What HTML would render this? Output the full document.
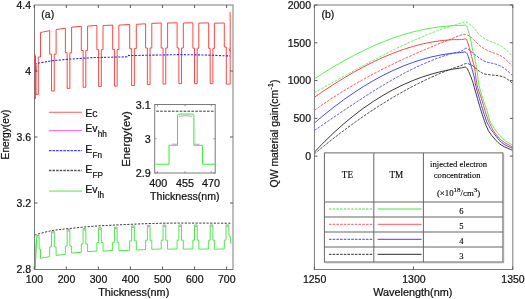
<!DOCTYPE html>
<html><head><meta charset="utf-8"><style>
html,body{margin:0;padding:0;background:#fff;}
svg{display:block;filter:blur(0.35px);}
text{font-family:"Liberation Sans",sans-serif;fill:#111;stroke:#111;stroke-width:0.22px;}
.tk{font-size:10.5px;}
.ser{font-family:"Liberation Serif",serif;stroke:#000;stroke-width:0.12px;fill:#000;}
</style></head><body>
<svg width="525" height="299" viewBox="0 0 525 299">
<rect width="525" height="299" fill="#fff"/>
<defs>
<clipPath id="ca"><rect x="34.5" y="5.0" width="198.5" height="264.5"/></clipPath>
<clipPath id="cb"><rect x="314.4" y="5" width="198.39999999999998" height="264.5"/></clipPath>
</defs>
<!-- Plot a curves -->
<g clip-path="url(#ca)" fill="none" stroke-linejoin="miter">
<path d="M35.3 56 L35.3 99 M36.0 64 L36.0 94.3 L38.3 94.3 L38.3 57 L40.50 57 L40.50 32.50 L49.70 30.60 L49.70 54.20 L51.55 54.20 L51.55 91.00 L54.25 91.00 L54.25 54.20 L56.10 54.20 L56.10 29.60 L65.40 28.20 L65.40 52.70 L67.15 52.70 L67.15 88.40 L69.85 88.40 L69.85 52.70 L71.60 52.70 L71.60 27.20 L81.30 26.30 L81.30 50.50 L83.10 50.50 L83.10 87.30 L85.80 87.30 L85.80 50.50 L87.60 50.50 L87.60 26.10 L96.90 25.40 L96.90 49.70 L98.60 49.70 L98.60 86.40 L101.30 86.40 L101.30 49.70 L103.00 49.70 L103.00 25.60 L112.70 25.10 L112.70 49.50 L114.45 49.50 L114.45 86.10 L117.15 86.10 L117.15 49.50 L118.90 49.50 L118.90 25.10 L129.70 24.50 L129.70 48.60 L131.65 48.60 L131.65 85.50 L134.35 85.50 L134.35 48.60 L136.30 48.60 L136.30 24.30 L145.60 23.80 L145.60 48.00 L147.35 48.00 L147.35 84.60 L150.05 84.60 L150.05 48.00 L151.80 48.00 L151.80 23.40 L161.20 23.00 L161.20 48.00 L163.05 48.00 L163.05 84.10 L165.75 84.10 L165.75 48.00 L167.60 48.00 L167.60 23.00 L177.10 22.80 L177.10 48.00 L178.85 48.00 L178.85 83.60 L181.55 83.60 L181.55 48.00 L183.30 48.00 L183.30 23.00 L192.90 22.80 L192.90 48.20 L194.50 48.20 L194.50 83.60 L197.20 83.60 L197.20 48.20 L198.80 48.20 L198.80 23.10 L208.70 22.90 L208.70 48.40 L210.20 48.40 L210.20 83.60 L212.90 83.60 L212.90 48.40 L214.40 48.40 L214.40 23.20 L224.30 23.00 L224.30 47.00 L226.30 47.00 L226.30 84.10 L230.20 84.10 L230.20 12.2" stroke="#ff3030" stroke-width="0.9"/>
<path d="M229.0 48.3 L230.2 51.5" stroke="#ff3030" stroke-width="0.9"/>
<path d="M34.5 54 L35.8 72" stroke="#c03030" stroke-width="1.6"/>
<path d="M34.50 63.80 L53.00 60.60 L72.00 59.00 L91.00 57.70 L114.00 57.10 L127.30 56.80 L128.50 55.30 L130.00 55.60 L180.00 54.60 L205.00 55.00 L230.00 56.00" stroke="#2a2aff" stroke-width="1.1" stroke-dasharray="2.2 1.3"/>
<path d="M34.50 235.00 C37.42 234.27 46.08 231.68 52.00 230.60 C57.92 229.52 63.17 229.22 70.00 228.50 C76.83 227.78 84.67 226.92 93.00 226.30 C101.33 225.68 108.00 225.32 120.00 224.80 C132.00 224.28 146.50 223.47 165.00 223.20 C183.50 222.93 220.00 223.20 231.00 223.20" stroke="#222" stroke-width="0.9" stroke-dasharray="2.2 1.4"/>
<path d="M35.2 268.5 L36.4 240 L36.4 235.5 L39.1 235.5 L39.1 249.2 L40.50 249.2 L40.50 258.30 L49.70 256.60 L49.70 247.00 L51.55 247.00 L51.55 231.30 L54.25 231.30 L54.25 247.00 L56.10 247.00 L56.10 255.40 L65.40 254.30 L65.40 246.00 L67.15 246.00 L67.15 229.50 L69.85 229.50 L69.85 246.00 L71.60 246.00 L71.60 253.00 L81.30 252.30 L81.30 244.00 L83.10 244.00 L83.10 228.50 L85.80 228.50 L85.80 244.00 L87.60 244.00 L87.60 251.60 L96.90 251.10 L96.90 242.50 L98.60 242.50 L98.60 227.70 L101.30 227.70 L101.30 242.50 L103.00 242.50 L103.00 251.00 L112.70 250.60 L112.70 242.20 L114.45 242.20 L114.45 227.10 L117.15 227.10 L117.15 242.20 L118.90 242.20 L118.90 250.70 L129.70 250.30 L129.70 240.80 L131.65 240.80 L131.65 225.90 L134.35 225.90 L134.35 240.80 L136.30 240.80 L136.30 250.00 L145.60 249.60 L145.60 240.30 L147.35 240.30 L147.35 225.40 L150.05 225.40 L150.05 240.30 L151.80 240.30 L151.80 249.30 L161.20 249.00 L161.20 240.20 L163.05 240.20 L163.05 225.00 L165.75 225.00 L165.75 240.20 L167.60 240.20 L167.60 249.20 L177.10 248.90 L177.10 240.20 L178.85 240.20 L178.85 224.90 L181.55 224.90 L181.55 240.20 L183.30 240.20 L183.30 249.20 L192.90 248.90 L192.90 240.20 L194.50 240.20 L194.50 224.90 L197.20 224.90 L197.20 240.20 L198.80 240.20 L198.80 249.20 L208.70 248.90 L208.70 240.20 L210.20 240.20 L210.20 224.90 L212.90 224.90 L212.90 240.20 L214.40 240.20 L214.40 249.20 L224.30 248.90 L224.30 240.20 L226.00 240.20 L226.00 224.90 L228.70 224.90 L229.10 236.00 L230.4 236.5 L230.9 244" stroke="#4ee84e" stroke-width="1.0"/>
<path d="M37.1 237.0 L38.5 237.0 M52.00 232.80 L53.80 232.80 M67.60 231.00 L69.40 231.00 M83.55 230.00 L85.35 230.00 M99.05 229.20 L100.85 229.20 M114.90 228.60 L116.70 228.60 M132.10 227.40 L133.90 227.40 M147.80 226.90 L149.60 226.90 M163.50 226.50 L165.30 226.50 M179.30 226.40 L181.10 226.40 M194.95 226.40 L196.75 226.40 M210.65 226.40 L212.45 226.40 M226.45 226.40 L228.25 226.40 " stroke="#ff40ff" stroke-width="0.9"/>
</g>
<!-- Plot a axes -->
<rect x="34.5" y="5.0" width="198.5" height="264.5" fill="none" stroke="#7a7a7a" stroke-width="1"/>
<path d="M35.0 269 L35.6 258 L36.4 240" stroke="#30e030" stroke-width="0.9" fill="none"/>
<path d="M35.2 56 L35.2 99 M34.8 55 L35.6 73" stroke="#ff4040" stroke-width="0.8" fill="none"/>
<path d="M34.20 269.5 v-3.0 M34.20 5.0 v3.0 M66.27 269.5 v-3.0 M66.27 5.0 v3.0 M98.34 269.5 v-3.0 M98.34 5.0 v3.0 M130.41 269.5 v-3.0 M130.41 5.0 v3.0 M162.48 269.5 v-3.0 M162.48 5.0 v3.0 M194.55 269.5 v-3.0 M194.55 5.0 v3.0 M226.62 269.5 v-3.0 M226.62 5.0 v3.0 M34.5 71.00 h3.0 M233.0 71.00 h-3.0 M34.5 137.00 h3.0 M233.0 137.00 h-3.0 M34.5 203.00 h3.0 M233.0 203.00 h-3.0 " stroke="#5a5a5a" stroke-width="1" fill="none"/>
<text class="tk" x="31" y="8.8" text-anchor="end">4.4</text>
<text class="tk" x="31" y="74.8" text-anchor="end">4</text>
<text class="tk" x="31" y="140.8" text-anchor="end">3.6</text>
<text class="tk" x="31" y="206.8" text-anchor="end">3.2</text>
<text class="tk" x="31" y="273.3" text-anchor="end">2.8</text>
<text class="tk" x="34.4" y="282.8" text-anchor="middle">100</text>
<text class="tk" x="66.5" y="282.8" text-anchor="middle">200</text>
<text class="tk" x="98.5" y="282.8" text-anchor="middle">300</text>
<text class="tk" x="130.6" y="282.8" text-anchor="middle">400</text>
<text class="tk" x="162.7" y="282.8" text-anchor="middle">500</text>
<text class="tk" x="194.8" y="282.8" text-anchor="middle">600</text>
<text class="tk" x="226.8" y="282.8" text-anchor="middle">700</text>
<text x="133.7" y="296.0" text-anchor="middle" style="font-size:10.85px">Thickness(nm)</text>
<text x="0" y="0" transform="translate(8.5,134.5) rotate(-90)" text-anchor="middle" style="font-size:10.2px">Energy(ev)</text>
<text x="41.3" y="17.8" style="font-size:10.5px">(a)</text>
<path d="M48.9 112.3 H82" stroke="#ff5858" stroke-width="1.1" fill="none"/>
<text x="85.3" y="116.6" style="font-size:10.6px">Ec</text>
<path d="M48.9 130.6 H82" stroke="#ff60ff" stroke-width="1.0" fill="none"/>
<text x="85.3" y="131.7" style="font-size:10.6px">Ev<tspan dy="5.1" style="font-size:8.2px">hh</tspan></text>
<path d="M48.9 150.6 H82" stroke="#4040ff" stroke-width="1.3" stroke-dasharray="2.6 1.0" fill="none"/>
<text x="85.3" y="152.5" style="font-size:10.6px">E<tspan dy="5.1" style="font-size:8.2px">Fn</tspan></text>
<path d="M48.9 170.5 H82" stroke="#555" stroke-width="1.3" stroke-dasharray="2.5 1.1" fill="none"/>
<text x="85.3" y="172.7" style="font-size:10.6px">E<tspan dy="5.0" style="font-size:8.2px">FP</tspan></text>
<path d="M48.9 191.1 H82" stroke="#98f698" stroke-width="1.7" fill="none"/>
<text x="85.3" y="192.6" style="font-size:10.6px">Ev<tspan dy="5.1" style="font-size:8.2px">lh</tspan></text>
<rect x="154.7" y="104.5" width="60.5" height="68.5" fill="#fff" stroke="#7a7a7a" stroke-width="1"/>
<path d="M157.5 173.0 v-1.8 M157.5 104.5 v1.8 M185.0 173.0 v-1.8 M185.0 104.5 v1.8 M211.3 173.0 v-1.8 M211.3 104.5 v1.8 M154.7 104.51 h1.8 M215.2 104.51 h-1.8 M154.7 138.70 h1.8 M215.2 138.70 h-1.8 M154.7 173.00 h1.8 M215.2 173.00 h-1.8 " stroke="#7a7a7a" stroke-width="0.8" fill="none"/>
<path d="M156.3 111.2 H214" stroke="#222" stroke-width="0.9" stroke-dasharray="2.6 1.3" fill="none"/>
<path d="M172 144.2 L177 144.2 M178.8 116.2 Q185.6 115.2 192.6 116.2 M194.5 144.2 L199.5 144.2" stroke="#ff50ff" stroke-width="0.8" fill="none"/>
<path d="M155.5 164.2 L169.0 164.2 L169.0 145.3 L177.5 145.3 L177.5 115.5 Q177.8 114.1 180 114.0 L191.5 114.0 Q193.8 114.1 193.9 115.5 L193.9 145.3 L202.6 145.3 L202.6 164.2 L214.8 164.2" stroke="#30ee30" stroke-width="1.0" fill="none"/>
<text class="tk" x="150.7" y="109.2" text-anchor="end" style="font-size:10.8px">3.1</text>
<text class="tk" x="150.7" y="142.8" text-anchor="end" style="font-size:10.8px">3</text>
<text class="tk" x="150.7" y="176.6" text-anchor="end" style="font-size:10.8px">2.9</text>
<text x="158.3" y="186.9" text-anchor="middle" style="font-size:10.8px">400</text>
<text x="184.9" y="186.9" text-anchor="middle" style="font-size:10.8px">455</text>
<text x="211.0" y="186.9" text-anchor="middle" style="font-size:10.8px">470</text>
<text x="184.8" y="200.0" text-anchor="middle" style="font-size:10.6px">Thickness(nm)</text>
<text x="0" y="0" transform="translate(129.6,139.0) rotate(-90)" text-anchor="middle" style="font-size:11.4px">Energy(ev)</text>
<g clip-path="url(#cb)" fill="none">
<path d="M314.40 78.85 C316.03 77.80 320.94 74.59 324.21 72.54 C327.48 70.48 330.74 68.48 334.01 66.53 C337.28 64.59 340.55 62.69 343.82 60.86 C347.09 59.03 350.36 57.26 353.63 55.54 C356.90 53.83 360.16 52.18 363.43 50.60 C366.70 49.01 369.97 47.49 373.24 46.04 C376.51 44.58 379.78 43.20 383.05 41.88 C386.32 40.57 389.58 39.32 392.85 38.16 C396.12 36.99 399.39 35.89 402.66 34.87 C405.93 33.85 409.20 32.91 412.47 32.05 C415.74 31.19 419.00 30.41 422.27 29.71 C425.54 29.01 428.81 28.39 432.08 27.87 C435.35 27.34 438.62 26.89 441.89 26.54 C445.16 26.19 448.42 25.92 451.69 25.75 C454.96 25.58 459.12 25.57 461.50 25.52 C463.88 25.46 464.92 24.65 466.00 25.40 C467.08 26.15 467.33 28.07 468.00 30.00 C468.67 31.93 469.45 34.83 470.00 37.00 C470.55 39.17 470.87 40.83 471.30 43.00 C471.73 45.17 472.07 47.67 472.60 50.00 C473.13 52.33 473.78 53.65 474.50 57.00 C475.22 60.35 476.17 65.43 476.90 70.10 C477.63 74.77 477.92 80.28 478.90 85.00 C479.88 89.72 481.38 93.93 482.80 98.40 C484.22 102.87 486.28 108.20 487.40 111.80 C488.52 115.40 488.65 117.72 489.50 120.00 C490.35 122.28 491.35 123.60 492.50 125.50 C493.65 127.40 494.42 128.98 496.40 131.40 C498.38 133.82 501.67 137.68 504.40 140.00 C507.13 142.32 511.40 144.42 512.80 145.30" stroke="#40f040" stroke-width="0.9"/>
<path d="M314.40 92.51 L315.34 91.99 L316.16 91.54 L317.03 91.06 L317.90 90.58 L318.78 90.10 L319.65 89.61 L320.53 89.13 L321.41 88.65 L322.28 88.17 L323.16 87.68 L324.03 87.20 L324.91 86.71 L325.78 86.23 L326.66 85.75 L327.53 85.26 L328.41 84.78 L329.28 84.29 L330.15 83.81 L331.03 83.32 L331.90 82.84 L332.78 82.35 L333.65 81.87 L334.53 81.38 L335.40 80.90 L336.28 80.41 L337.15 79.93 L338.03 79.44 L338.90 78.96 L339.78 78.47 L340.65 77.99 L341.52 77.50 L342.40 77.02 L343.28 76.54 L344.15 76.05 L345.03 75.57 L345.90 75.09 L346.78 74.60 L347.65 74.12 L348.53 73.64 L349.41 73.16 L350.28 72.67 L351.16 72.19 L352.03 71.71 L352.91 71.23 L353.79 70.75 L354.67 70.27 L355.54 69.79 L356.42 69.31 L357.30 68.83 L358.18 68.36 L359.06 67.88 L359.94 67.40 L360.82 66.93 L361.69 66.45 L362.57 65.97 L363.46 65.50 L364.34 65.03 L365.22 64.55 L366.10 64.08 L366.98 63.61 L367.86 63.14 L368.74 62.67 L369.63 62.20 L370.51 61.73 L371.39 61.26 L372.28 60.79 L373.16 60.33 L374.05 59.86 L374.93 59.39 L375.82 58.93 L376.70 58.47 L377.59 58.01 L378.48 57.54 L379.37 57.08 L380.25 56.62 L381.14 56.16 L382.03 55.71 L382.92 55.25 L383.81 54.80 L384.70 54.34 L385.59 53.89 L386.49 53.44 L387.38 52.99 L388.27 52.54 L389.17 52.09 L390.06 51.64 L390.95 51.19 L391.85 50.75 L392.75 50.31 L393.64 49.86 L394.54 49.42 L395.44 48.98 L396.34 48.54 L397.24 48.11 L398.14 47.67 L399.04 47.24 L399.94 46.80 L400.84 46.37 L401.75 45.94 L402.65 45.52 L403.55 45.09 L404.46 44.67 L405.37 44.24 L406.27 43.82 L407.18 43.40 L408.09 42.98 L409.00 42.57 L409.91 42.15 L410.82 41.74 L411.73 41.33 L412.64 40.92 L413.56 40.51 L414.47 40.10 L415.38 39.70 L416.30 39.30 L417.22 38.90 L418.13 38.50 L419.05 38.11 L419.97 37.71 L420.89 37.32 L421.81 36.93 L422.73 36.54 L423.66 36.16 L424.58 35.78 L425.51 35.40 L426.43 35.02 L427.36 34.64 L428.29 34.27 L429.21 33.90 L430.14 33.53 L431.07 33.16 L432.01 32.80 L432.94 32.43 L433.87 32.08 L434.81 31.72 L435.74 31.37 L436.68 31.01 L437.61 30.67 L438.55 30.32 L439.49 29.98 L440.43 29.64 L441.37 29.30 L442.32 28.96 L443.26 28.63 L444.20 28.30 L445.15 27.98 L446.10 27.66 L447.04 27.34 L447.99 27.02 L448.94 26.71 L449.89 26.40 L450.84 26.09 L451.80 25.79 L452.75 25.49 L453.71 25.19 L454.66 24.90 L455.62 24.61 L456.58 24.33 L457.54 24.05 L458.50 23.77 L459.46 23.49 L460.42 23.21 L461.38 22.92 L462.33 22.61 L463.27 22.28 L464.21 21.98 L465.17 21.81 L466.13 21.89 L467.03 22.22 L467.87 22.74 L468.65 23.35 L469.42 24.00 L470.19 24.63 L470.96 25.26 L471.74 25.90 L472.49 26.55 L473.22 27.23 L473.91 27.95 L474.56 28.71 L475.17 29.50 L475.76 30.31 L476.34 31.13 L476.93 31.93 L477.54 32.72 L478.20 33.48 L478.89 34.20 L479.61 34.89 L480.37 35.54 L481.15 36.16 L481.95 36.75 L482.77 37.33 L483.60 37.88 L484.45 38.42 L485.30 38.94 L486.17 39.44 L487.05 39.91 L487.94 40.35 L488.86 40.76 L489.78 41.13 L490.72 41.48 L491.66 41.82 L492.60 42.15 L493.54 42.49 L494.48 42.86 L495.40 43.24 L496.31 43.65 L497.22 44.07 L498.12 44.51 L499.02 44.95 L499.91 45.40 L500.78 45.88 L501.65 46.38 L502.49 46.91 L503.32 47.47 L504.12 48.07 L504.90 48.69 L505.66 49.35 L506.40 50.02 L507.12 50.71 L507.84 51.41 L508.54 52.12 L509.25 52.83 L509.94 53.55 L510.64 54.27 L511.32 54.98 L511.97 55.65 L512.45 56.15" stroke="#40f040" stroke-width="0.9" stroke-dasharray="2.6 1.3"/>
<path d="M314.40 97.25 C316.03 96.13 320.94 92.73 324.21 90.55 C327.48 88.36 330.74 86.22 334.01 84.14 C337.28 82.05 340.55 80.02 343.82 78.04 C347.09 76.07 350.36 74.15 353.63 72.30 C356.90 70.44 360.16 68.64 363.43 66.92 C366.70 65.19 369.97 63.53 373.24 61.94 C376.51 60.35 379.78 58.83 383.05 57.39 C386.32 55.95 389.58 54.58 392.85 53.29 C396.12 52.01 399.39 50.79 402.66 49.67 C405.93 48.55 409.20 47.51 412.47 46.56 C415.74 45.61 419.00 44.75 422.27 43.98 C425.54 43.22 428.81 42.54 432.08 41.97 C435.35 41.39 438.62 40.91 441.89 40.54 C445.16 40.17 448.42 39.89 451.69 39.73 C454.96 39.56 459.12 39.69 461.50 39.56 C463.88 39.42 465.03 38.58 466.00 38.90 C466.97 39.22 466.88 40.48 467.30 41.50 C467.72 42.52 468.00 43.42 468.50 45.00 C469.00 46.58 469.55 48.17 470.30 51.00 C471.05 53.83 472.28 59.17 473.00 62.00 C473.72 64.83 473.92 64.17 474.60 68.00 C475.28 71.83 475.97 79.93 477.10 85.00 C478.23 90.07 480.02 93.93 481.40 98.40 C482.78 102.87 484.25 108.12 485.40 111.80 C486.55 115.48 487.33 118.05 488.30 120.50 C489.27 122.95 490.27 124.68 491.20 126.50 C492.13 128.32 492.13 129.03 493.90 131.40 C495.67 133.77 498.65 138.10 501.80 140.70 C504.95 143.30 510.97 145.95 512.80 147.00" stroke="#ff3030" stroke-width="0.9"/>
<path d="M314.40 110.37 L315.28 109.75 L316.04 109.21 L316.85 108.64 L317.67 108.06 L318.49 107.48 L319.30 106.91 L320.12 106.34 L320.94 105.76 L321.76 105.19 L322.58 104.62 L323.41 104.05 L324.23 103.49 L325.06 102.92 L325.89 102.36 L326.72 101.80 L327.55 101.25 L328.38 100.69 L329.21 100.14 L330.04 99.59 L330.88 99.03 L331.72 98.49 L332.55 97.94 L333.39 97.39 L334.23 96.85 L335.07 96.31 L335.91 95.77 L336.75 95.23 L337.60 94.69 L338.44 94.16 L339.29 93.62 L340.14 93.09 L340.98 92.56 L341.83 92.03 L342.68 91.51 L343.53 90.98 L344.39 90.46 L345.24 89.94 L346.09 89.42 L346.95 88.90 L347.80 88.38 L348.66 87.87 L349.52 87.35 L350.38 86.84 L351.24 86.33 L352.10 85.82 L352.96 85.32 L353.83 84.81 L354.69 84.31 L355.56 83.81 L356.42 83.31 L357.29 82.81 L358.16 82.31 L359.03 81.82 L359.90 81.33 L360.77 80.83 L361.64 80.34 L362.51 79.86 L363.38 79.37 L364.26 78.88 L365.13 78.40 L366.01 77.92 L366.89 77.44 L367.77 76.96 L368.64 76.48 L369.52 76.01 L370.41 75.53 L371.29 75.06 L372.17 74.59 L373.05 74.12 L373.94 73.66 L374.82 73.19 L375.71 72.72 L376.59 72.26 L377.48 71.80 L378.37 71.34 L379.26 70.88 L380.15 70.43 L381.04 69.97 L381.93 69.52 L382.82 69.07 L383.71 68.62 L384.61 68.17 L385.50 67.72 L386.40 67.27 L387.29 66.83 L388.19 66.39 L389.09 65.94 L389.98 65.50 L390.88 65.07 L391.78 64.63 L392.68 64.19 L393.58 63.76 L394.48 63.32 L395.39 62.89 L396.29 62.46 L397.19 62.03 L398.10 61.61 L399.00 61.18 L399.91 60.76 L400.81 60.33 L401.72 59.91 L402.63 59.49 L403.53 59.07 L404.44 58.65 L405.35 58.24 L406.26 57.82 L407.17 57.41 L408.08 56.99 L408.99 56.58 L409.91 56.17 L410.82 55.76 L411.73 55.35 L412.64 54.95 L413.56 54.54 L414.47 54.14 L415.39 53.73 L416.30 53.33 L417.22 52.93 L418.14 52.53 L419.05 52.13 L419.97 51.74 L420.89 51.34 L421.81 50.95 L422.73 50.55 L423.65 50.16 L424.57 49.77 L425.49 49.38 L426.41 48.99 L427.33 48.60 L428.25 48.21 L429.17 47.82 L430.10 47.44 L431.02 47.05 L431.94 46.67 L432.87 46.29 L433.79 45.90 L434.72 45.52 L435.64 45.14 L436.57 44.76 L437.49 44.39 L438.42 44.01 L439.34 43.63 L440.27 43.26 L441.20 42.88 L442.13 42.51 L443.05 42.14 L443.98 41.76 L444.91 41.39 L445.84 41.02 L446.77 40.65 L447.70 40.28 L448.63 39.91 L449.56 39.55 L450.49 39.18 L451.42 38.81 L452.35 38.44 L453.27 38.07 L454.20 37.69 L455.13 37.31 L456.05 36.93 L456.98 36.56 L457.91 36.19 L458.84 35.83 L459.78 35.48 L460.72 35.15 L461.68 34.86 L462.65 34.62 L463.63 34.45 L464.62 34.40 L465.60 34.48 L466.57 34.69 L467.50 35.03 L468.39 35.48 L469.24 36.00 L470.06 36.57 L470.85 37.17 L471.62 37.81 L472.37 38.48 L473.10 39.16 L473.83 39.84 L474.54 40.54 L475.24 41.25 L475.94 41.97 L476.64 42.68 L477.36 43.38 L478.08 44.07 L478.83 44.74 L479.57 45.40 L480.34 46.05 L481.12 46.67 L481.92 47.26 L482.75 47.82 L483.60 48.34 L484.47 48.84 L485.35 49.31 L486.24 49.77 L487.14 50.21 L488.04 50.65 L488.94 51.07 L489.85 51.49 L490.77 51.89 L491.69 52.27 L492.63 52.62 L493.58 52.94 L494.53 53.25 L495.48 53.56 L496.42 53.89 L497.35 54.24 L498.27 54.64 L499.18 55.05 L500.09 55.48 L500.97 55.94 L501.84 56.44 L502.67 56.99 L503.49 57.57 L504.27 58.19 L505.03 58.83 L505.78 59.50 L506.51 60.19 L507.22 60.88 L507.94 61.58 L508.65 62.29 L509.35 63.00 L510.05 63.71 L510.75 64.42 L511.43 65.12 L512.02 65.72" stroke="#ff3030" stroke-width="0.9" stroke-dasharray="2.6 1.3"/>
<path d="M314.40 123.01 C316.03 121.63 320.94 117.44 324.21 114.77 C327.48 112.09 330.74 109.50 334.01 106.98 C337.28 104.47 340.55 102.03 343.82 99.67 C347.09 97.31 350.36 95.04 353.63 92.84 C356.90 90.65 360.16 88.53 363.43 86.50 C366.70 84.47 369.97 82.52 373.24 80.66 C376.51 78.80 379.78 77.03 383.05 75.34 C386.32 73.65 389.58 72.05 392.85 70.54 C396.12 69.03 399.39 67.60 402.66 66.27 C405.93 64.94 409.20 63.69 412.47 62.55 C415.74 61.40 419.00 60.34 422.27 59.38 C425.54 58.42 428.81 57.55 432.08 56.78 C435.35 56.01 438.62 55.33 441.89 54.75 C445.16 54.18 448.42 53.69 451.69 53.31 C454.96 52.94 459.10 52.63 461.50 52.48 C463.90 52.32 464.88 51.48 466.10 52.40 C467.32 53.32 467.90 55.50 468.80 58.00 C469.70 60.50 470.60 64.27 471.50 67.40 C472.40 70.53 473.52 73.87 474.20 76.80 C474.88 79.73 474.73 81.40 475.60 85.00 C476.47 88.60 478.10 93.93 479.40 98.40 C480.70 102.87 482.22 108.03 483.40 111.80 C484.58 115.57 485.48 118.47 486.50 121.00 C487.52 123.53 488.58 125.35 489.50 127.00 C490.42 128.65 489.95 128.28 492.00 130.90 C494.05 133.52 498.33 139.77 501.80 142.70 C505.27 145.63 510.97 147.53 512.80 148.50" stroke="#3030ff" stroke-width="0.9"/>
<path d="M314.40 130.37 L315.29 129.77 L316.06 129.25 L316.88 128.69 L317.71 128.13 L318.54 127.57 L319.37 127.01 L320.20 126.45 L321.02 125.89 L321.85 125.33 L322.68 124.77 L323.51 124.21 L324.34 123.64 L325.16 123.08 L325.99 122.52 L326.82 121.96 L327.65 121.40 L328.47 120.84 L329.30 120.27 L330.13 119.71 L330.96 119.15 L331.78 118.59 L332.61 118.03 L333.44 117.47 L334.27 116.91 L335.09 116.35 L335.92 115.79 L336.75 115.22 L337.58 114.66 L338.41 114.10 L339.24 113.54 L340.06 112.98 L340.89 112.43 L341.72 111.87 L342.55 111.31 L343.38 110.75 L344.21 110.19 L345.04 109.64 L345.87 109.08 L346.70 108.52 L347.54 107.97 L348.37 107.41 L349.20 106.86 L350.03 106.30 L350.86 105.75 L351.70 105.19 L352.53 104.64 L353.36 104.09 L354.20 103.54 L355.03 102.99 L355.87 102.44 L356.70 101.89 L357.54 101.34 L358.38 100.79 L359.21 100.25 L360.05 99.70 L360.89 99.15 L361.73 98.61 L362.57 98.07 L363.41 97.52 L364.25 96.98 L365.09 96.44 L365.93 95.90 L366.77 95.36 L367.62 94.82 L368.46 94.29 L369.30 93.75 L370.15 93.22 L370.99 92.68 L371.84 92.15 L372.69 91.62 L373.54 91.09 L374.39 90.56 L375.23 90.03 L376.09 89.51 L376.94 88.98 L377.79 88.46 L378.64 87.93 L379.49 87.41 L380.35 86.89 L381.20 86.38 L382.06 85.86 L382.92 85.34 L383.78 84.83 L384.63 84.32 L385.49 83.81 L386.36 83.30 L387.22 82.79 L388.08 82.29 L388.94 81.78 L389.81 81.28 L390.67 80.78 L391.54 80.28 L392.41 79.79 L393.28 79.29 L394.15 78.80 L395.02 78.31 L395.89 77.82 L396.77 77.33 L397.64 76.85 L398.52 76.37 L399.39 75.89 L400.27 75.41 L401.15 74.93 L402.03 74.46 L402.91 73.99 L403.80 73.52 L404.68 73.05 L405.57 72.59 L406.46 72.13 L407.34 71.67 L408.23 71.21 L409.12 70.75 L410.02 70.30 L410.91 69.85 L411.80 69.41 L412.70 68.97 L413.60 68.53 L414.50 68.09 L415.40 67.65 L416.30 67.22 L417.20 66.79 L418.11 66.37 L419.02 65.94 L419.92 65.52 L420.83 65.11 L421.74 64.70 L422.66 64.29 L423.57 63.88 L424.49 63.48 L425.40 63.08 L426.32 62.68 L427.24 62.29 L428.16 61.90 L429.08 61.52 L430.01 61.14 L430.94 60.76 L431.86 60.39 L432.79 60.02 L433.72 59.65 L434.66 59.29 L435.59 58.94 L436.53 58.58 L437.46 58.23 L438.40 57.89 L439.34 57.55 L440.28 57.21 L441.23 56.88 L442.17 56.56 L443.12 56.24 L444.07 55.92 L445.02 55.61 L445.97 55.30 L446.93 55.00 L447.88 54.70 L448.84 54.41 L449.79 54.13 L450.75 53.85 L451.72 53.57 L452.68 53.32 L453.65 53.08 L454.63 52.85 L455.60 52.63 L456.58 52.41 L457.55 52.19 L458.53 51.96 L459.49 51.71 L460.45 51.43 L461.39 51.08 L462.28 50.65 L463.11 50.10 L463.88 49.48 L464.66 48.86 L465.48 48.39 L466.38 48.24 L467.28 48.45 L468.11 48.95 L468.87 49.58 L469.61 50.26 L470.35 50.93 L471.11 51.57 L471.89 52.20 L472.67 52.83 L473.45 53.45 L474.23 54.08 L475.01 54.71 L475.79 55.33 L476.58 55.94 L477.38 56.54 L478.19 57.13 L479.00 57.71 L479.82 58.29 L480.64 58.86 L481.46 59.42 L482.30 59.97 L483.15 60.49 L484.03 60.98 L484.92 61.42 L485.84 61.80 L486.79 62.11 L487.76 62.35 L488.74 62.55 L489.72 62.74 L490.70 62.94 L491.67 63.16 L492.65 63.38 L493.62 63.61 L494.59 63.85 L495.55 64.12 L496.50 64.44 L497.44 64.78 L498.37 65.15 L499.29 65.53 L500.21 65.94 L501.11 66.37 L501.99 66.84 L502.85 67.34 L503.70 67.88 L504.51 68.45 L505.31 69.06 L506.08 69.69 L506.84 70.34 L507.59 71.00 L508.34 71.67 L509.08 72.34 L509.81 73.02 L510.54 73.70 L511.27 74.38 L511.95 75.02 L512.45 75.48" stroke="#3030ff" stroke-width="0.9" stroke-dasharray="2.6 1.3"/>
<path d="M314.40 152.15 C316.03 150.45 320.94 145.24 324.21 141.97 C327.48 138.70 330.74 135.54 334.01 132.51 C337.28 129.47 340.55 126.55 343.82 123.74 C347.09 120.93 350.36 118.23 353.63 115.65 C356.90 113.06 360.16 110.59 363.43 108.23 C366.70 105.87 369.97 103.61 373.24 101.47 C376.51 99.32 379.78 97.28 383.05 95.34 C386.32 93.41 389.58 91.58 392.85 89.85 C396.12 88.12 399.39 86.50 402.66 84.98 C405.93 83.45 409.20 82.03 412.47 80.70 C415.74 79.37 419.00 78.15 422.27 77.01 C425.54 75.88 428.81 74.85 432.08 73.90 C435.35 72.96 438.62 72.11 441.89 71.36 C445.16 70.60 448.42 69.93 451.69 69.36 C454.96 68.78 459.10 68.22 461.50 67.89 C463.90 67.57 464.77 66.48 466.10 67.40 C467.43 68.32 468.38 70.95 469.50 73.40 C470.62 75.85 472.12 80.17 472.80 82.10 C473.48 84.03 472.83 82.28 473.60 85.00 C474.37 87.72 476.10 93.93 477.40 98.40 C478.70 102.87 480.25 108.12 481.40 111.80 C482.55 115.48 483.13 117.35 484.30 120.50 C485.47 123.65 486.60 127.55 488.40 130.70 C490.20 133.85 492.87 136.95 495.10 139.40 C497.33 141.85 498.85 143.55 501.80 145.40 C504.75 147.25 510.97 149.65 512.80 150.50" stroke="#222" stroke-width="0.9"/>
<path d="M314.40 153.84 L315.23 153.16 L315.95 152.57 L316.71 151.93 L317.49 151.30 L318.26 150.66 L319.03 150.03 L319.80 149.39 L320.57 148.76 L321.35 148.12 L322.12 147.49 L322.90 146.86 L323.67 146.23 L324.45 145.60 L325.23 144.97 L326.01 144.34 L326.79 143.72 L327.57 143.09 L328.35 142.47 L329.14 141.85 L329.92 141.23 L330.70 140.61 L331.49 139.99 L332.28 139.37 L333.06 138.75 L333.85 138.14 L334.64 137.52 L335.43 136.91 L336.22 136.30 L337.01 135.69 L337.80 135.08 L338.60 134.47 L339.39 133.86 L340.19 133.25 L340.98 132.65 L341.78 132.05 L342.58 131.44 L343.38 130.84 L344.18 130.24 L344.98 129.64 L345.78 129.04 L346.58 128.45 L347.38 127.85 L348.19 127.26 L348.99 126.66 L349.80 126.07 L350.61 125.48 L351.41 124.89 L352.22 124.30 L353.03 123.72 L353.84 123.13 L354.65 122.55 L355.47 121.96 L356.28 121.38 L357.10 120.80 L357.91 120.22 L358.73 119.65 L359.55 119.07 L360.36 118.50 L361.18 117.92 L362.00 117.35 L362.83 116.78 L363.65 116.21 L364.47 115.65 L365.30 115.08 L366.12 114.52 L366.95 113.95 L367.78 113.39 L368.60 112.83 L369.43 112.27 L370.26 111.72 L371.10 111.16 L371.93 110.61 L372.76 110.06 L373.60 109.51 L374.43 108.96 L375.27 108.41 L376.11 107.86 L376.95 107.32 L377.79 106.78 L378.63 106.24 L379.47 105.70 L380.31 105.16 L381.16 104.62 L382.00 104.09 L382.85 103.56 L383.70 103.03 L384.55 102.50 L385.40 101.97 L386.25 101.44 L387.10 100.92 L387.95 100.40 L388.81 99.88 L389.66 99.36 L390.52 98.84 L391.37 98.33 L392.23 97.82 L393.09 97.31 L393.95 96.80 L394.82 96.29 L395.68 95.79 L396.54 95.28 L397.41 94.78 L398.28 94.28 L399.14 93.78 L400.01 93.29 L400.88 92.80 L401.75 92.31 L402.62 91.82 L403.50 91.33 L404.37 90.84 L405.25 90.36 L406.13 89.88 L407.00 89.40 L407.88 88.92 L408.76 88.45 L409.64 87.98 L410.53 87.51 L411.41 87.04 L412.30 86.57 L413.18 86.11 L414.07 85.65 L414.96 85.19 L415.85 84.73 L416.74 84.28 L417.63 83.83 L418.52 83.38 L419.42 82.93 L420.31 82.49 L421.21 82.04 L422.11 81.60 L423.01 81.17 L423.91 80.73 L424.81 80.30 L425.71 79.87 L426.62 79.44 L427.52 79.02 L428.43 78.59 L429.33 78.17 L430.24 77.76 L431.15 77.34 L432.06 76.93 L432.98 76.52 L433.89 76.11 L434.81 75.71 L435.72 75.31 L436.64 74.91 L437.56 74.51 L438.48 74.12 L439.40 73.73 L440.32 73.34 L441.24 72.96 L442.17 72.58 L443.09 72.20 L444.02 71.82 L444.95 71.45 L445.87 71.08 L446.80 70.71 L447.74 70.35 L448.67 69.98 L449.60 69.63 L450.54 69.27 L451.47 68.92 L452.41 68.57 L453.35 68.23 L454.29 67.90 L455.24 67.57 L456.18 67.24 L457.13 66.91 L458.07 66.59 L459.02 66.26 L459.96 65.92 L460.90 65.58 L461.83 65.22 L462.75 64.82 L463.65 64.39 L464.55 63.97 L465.47 63.61 L466.43 63.43 L467.39 63.50 L468.32 63.78 L469.24 64.16 L470.16 64.55 L471.08 64.95 L471.97 65.40 L472.81 65.92 L473.62 66.51 L474.39 67.14 L475.15 67.79 L475.90 68.45 L476.65 69.11 L477.42 69.76 L478.20 70.38 L479.00 70.98 L479.82 71.55 L480.65 72.10 L481.51 72.62 L482.39 73.09 L483.29 73.51 L484.23 73.86 L485.18 74.13 L486.16 74.35 L487.15 74.50 L488.14 74.62 L489.13 74.71 L490.13 74.79 L491.13 74.88 L492.12 74.97 L493.12 75.09 L494.11 75.22 L495.10 75.35 L496.09 75.48 L497.08 75.61 L498.07 75.73 L499.06 75.88 L500.05 76.04 L501.03 76.24 L502.00 76.47 L502.95 76.76 L503.89 77.11 L504.79 77.53 L505.67 78.01 L506.51 78.54 L507.33 79.11 L508.14 79.70 L508.93 80.32 L509.71 80.95 L510.48 81.58 L511.24 82.22 L511.95 82.81 L512.49 83.25" stroke="#222" stroke-width="0.9" stroke-dasharray="2.6 1.3"/>
</g>
<rect x="314.4" y="5" width="198.39999999999998" height="264.5" fill="none" stroke="#7a7a7a" stroke-width="1"/>
<path d="M314.4 269.5 v-3.0 M314.4 5 v3.0 M413.5 269.5 v-3.0 M413.5 5 v3.0 M512.8 269.5 v-3.0 M512.8 5 v3.0 M314.4 5.00 h3.0 M512.8 5.00 h-3.0 M314.4 42.79 h3.0 M512.8 42.79 h-3.0 M314.4 80.57 h3.0 M512.8 80.57 h-3.0 M314.4 118.36 h3.0 M512.8 118.36 h-3.0 M314.4 156.14 h3.0 M512.8 156.14 h-3.0 " stroke="#5a5a5a" stroke-width="1" fill="none"/>
<text class="tk" x="311" y="8.8" text-anchor="end">2000</text>
<text class="tk" x="311" y="46.6" text-anchor="end">1500</text>
<text class="tk" x="311" y="84.4" text-anchor="end">1000</text>
<text class="tk" x="311" y="122.2" text-anchor="end">500</text>
<text class="tk" x="311" y="159.9" text-anchor="end">0</text>
<text class="tk" x="314.6" y="282.8" text-anchor="middle">1250</text>
<text class="tk" x="413.9" y="282.8" text-anchor="middle">1300</text>
<text class="tk" x="513" y="282.8" text-anchor="middle">1350</text>
<text x="412.8" y="296.0" text-anchor="middle" style="font-size:10.85px">Wavelength(nm)</text>
<text x="0" y="0" transform="translate(278.3,133.4) rotate(-90)" text-anchor="middle" style="font-size:10.4px">QW material gain(cm<tspan dy="-5.2" style="font-size:7.8px">-1</tspan><tspan dy="5.2">)</tspan></text>
<text x="321.5" y="17.8" style="font-size:10.5px">(b)</text>
<rect x="324.4" y="152.9" width="178.5" height="109.1" fill="#fff" stroke="#666" stroke-width="1"/>
<path d="M373.8 152.9 V262.0 M423.4 152.9 V262.0 M324.4 202.0 H502.9 M324.4 217.0 H502.9 M324.4 232.0 H502.9 M324.4 247.0 H502.9 " stroke="#666" stroke-width="1" fill="none"/>
<path d="M325.2 262.8 H503.7 V153.7" stroke="#999" stroke-width="0.8" fill="none"/>
<text class="ser" transform="translate(347.4,178.4) scale(0.9,1)" text-anchor="middle" style="font-size:10.2px">TE</text>
<text class="ser" transform="translate(396.3,178.4) scale(0.9,1)" text-anchor="middle" style="font-size:10.2px">TM</text>
<text class="ser" x="458.6" y="167.4" text-anchor="middle" style="font-size:8.6px">injected electron</text>
<text class="ser" x="457.2" y="177.6" text-anchor="middle" style="font-size:8.6px">concentration</text>
<text class="ser" x="458.6" y="195.6" text-anchor="middle" style="font-size:8.8px">(×10<tspan dy="-3.6" style="font-size:7px">18</tspan><tspan dy="3.6">/cm</tspan><tspan dy="-3.6" style="font-size:7px">3</tspan><tspan dy="3.6">)</tspan></text>
<path d="M329 209.0 H372.6" stroke="#80ee80" stroke-width="1.3" stroke-dasharray="2.5 1.2" fill="none"/>
<path d="M377.7 209.0 H421.6" stroke="#80ee80" stroke-width="1.3" fill="none"/>
<text class="ser" x="461.4" y="214.0" text-anchor="middle" style="font-size:8.6px">6</text>
<path d="M329 224.3 H372.6" stroke="#ff7a7a" stroke-width="1.3" stroke-dasharray="2.5 1.2" fill="none"/>
<path d="M377.7 224.3 H421.6" stroke="#ff7a7a" stroke-width="1.3" fill="none"/>
<text class="ser" x="461.4" y="229.3" text-anchor="middle" style="font-size:8.6px">5</text>
<path d="M329 239.3 H372.6" stroke="#6464ff" stroke-width="1.3" stroke-dasharray="2.5 1.2" fill="none"/>
<path d="M377.7 239.3 H421.6" stroke="#6464ff" stroke-width="1.3" fill="none"/>
<text class="ser" x="461.4" y="244.3" text-anchor="middle" style="font-size:8.6px">4</text>
<path d="M329 254.3 H372.6" stroke="#555" stroke-width="1.3" stroke-dasharray="2.5 1.2" fill="none"/>
<path d="M377.7 254.3 H421.6" stroke="#555" stroke-width="1.3" fill="none"/>
<text class="ser" x="461.4" y="259.3" text-anchor="middle" style="font-size:8.6px">3</text>
</svg>
</body></html>
